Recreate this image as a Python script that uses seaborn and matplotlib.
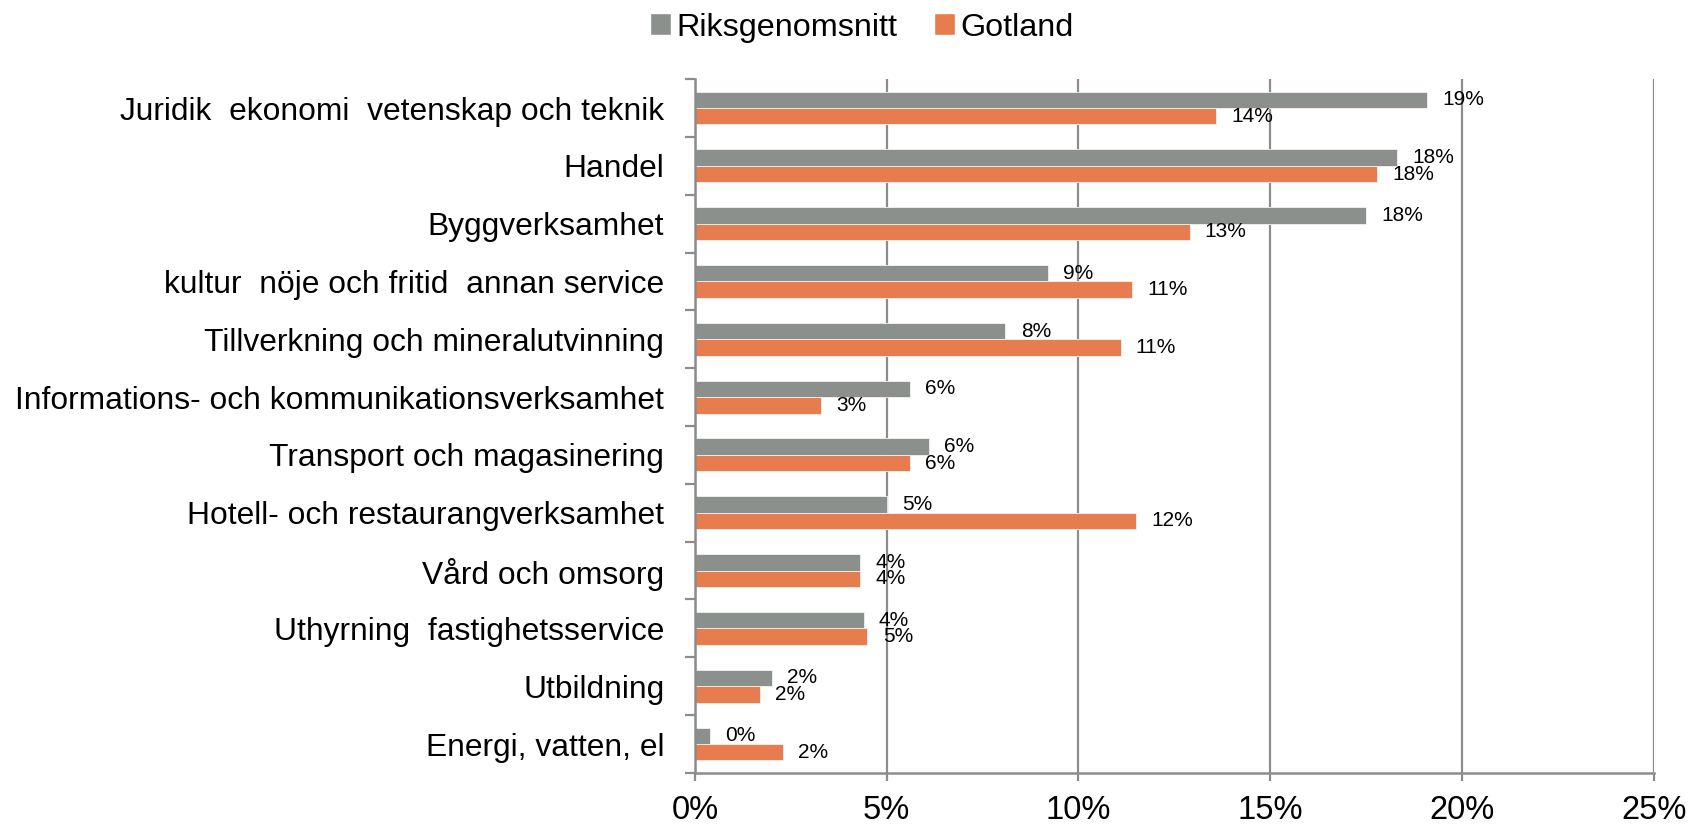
import matplotlib
matplotlib.use("Agg")
import matplotlib.pyplot as plt
import seaborn as sns
import pandas as pd
import numpy as np
from matplotlib.patches import Patch

categories = [
    "Juridik  ekonomi  vetenskap och teknik",
    "Handel",
    "Byggverksamhet",
    "kultur  nöje och fritid  annan service",
    "Tillverkning och mineralutvinning",
    "Informations- och kommunikationsverksamhet",
    "Transport och magasinering",
    "Hotell- och restaurangverksamhet",
    "Vård och omsorg",
    "Uthyrning  fastighetsservice",
    "Utbildning",
    "Energi, vatten, el",
]
riks = [19.1, 18.3, 17.5, 9.2, 8.1, 5.6, 6.1, 5.0, 4.3, 4.4, 2.0, 0.4]
gotland = [13.6, 17.8, 12.9, 11.4, 11.1, 3.3, 5.6, 11.5, 4.3, 4.5, 1.7, 2.3]
riks_labels = ["19%", "18%", "18%", "9%", "8%", "6%", "6%", "5%", "4%", "4%", "2%", "0%"]
gotland_labels = ["14%", "18%", "13%", "11%", "11%", "3%", "6%", "12%", "4%", "5%", "2%", "2%"]
series = ["Riksgenomsnitt", "Gotland"]
xticks = [0, 5, 10, 15, 20, 25]

GRAY = "#8B908D"
ORANGE = "#E77C4E"
AXC = "#8C8C8C"

sns.set_style("white")
plt.rcParams["font.family"] = ["Liberation Sans", "DejaVu Sans"]
plt.rcParams["text.color"] = "black"
plt.rcParams["xtick.labelcolor"] = "black"
plt.rcParams["ytick.labelcolor"] = "black"

df = pd.DataFrame({
    "cat": categories * 2,
    "value": riks + gotland,
    "series": [series[0]] * len(categories) + [series[1]] * len(categories),
})

fig = plt.figure(figsize=(17.03, 8.24), dpi=100)
ax = fig.add_axes([0.408, 0.062, 0.563, 0.842])

sns.barplot(data=df, y="cat", x="value", hue="series", orient="h",
            order=categories, hue_order=series, saturation=1,
            palette=[GRAY, ORANGE], width=0.57, ax=ax,
            edgecolor="#F2F2F2", linewidth=0.6, legend=False, errorbar=None)

ax.bar_label(ax.containers[0], labels=riks_labels, padding=11, fontsize=15, color="black")
ax.bar_label(ax.containers[1], labels=gotland_labels, padding=11, fontsize=15, color="black")

ax.set_xlim(0, 25)
ax.set_ylim(len(categories) - 0.5, -0.5)
ax.set_xticks(xticks)
ax.set_xticklabels([f"{t}%" for t in xticks], fontsize=23.5)
ax.xaxis.grid(True, color=AXC, linewidth=1.6)
ax.set_axisbelow(True)

# y ticks: marks at category boundaries, labels at centres
ax.set_yticks(np.arange(-0.5, len(categories), 1.0))
ax.set_yticklabels([])
ax.set_yticks(np.arange(len(categories)), minor=True)
ax.set_yticklabels(categories, minor=True, fontsize=22.9)
ax.tick_params(axis="y", which="major", length=7, width=1.6, color=AXC, direction="out", left=True)
ax.tick_params(axis="y", which="minor", length=0, pad=22)
ax.tick_params(axis="x", length=6, width=1.6, color=AXC, direction="out", bottom=True, pad=10)

ax.set_xlabel("")
ax.set_ylabel("")
for s in ["top", "right"]:
    ax.spines[s].set_visible(False)
for s in ["left", "bottom"]:
    ax.spines[s].set_color(AXC)
    ax.spines[s].set_linewidth(1.8)

handles = [Patch(facecolor=GRAY, label=series[0]), Patch(facecolor=ORANGE, label=series[1])]
fig.legend(handles=handles, loc="upper center", bbox_to_anchor=(0.506, 1.02), ncol=2,
           frameon=False, fontsize=23.3, handlelength=0.65, handleheight=0.65,
           handletextpad=0.15, columnspacing=1.15)

fig.savefig("out.png", dpi=100)
